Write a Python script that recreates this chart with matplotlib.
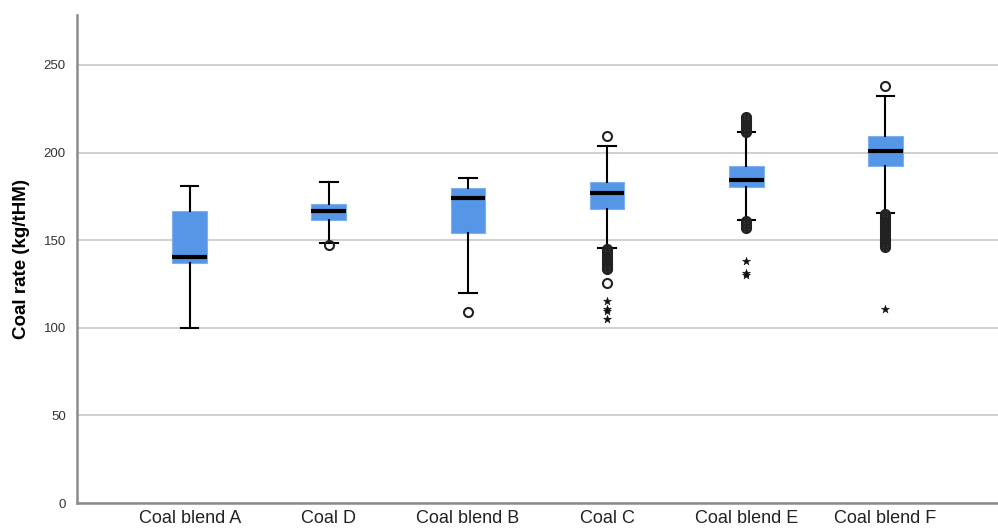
import matplotlib
matplotlib.use("Agg")
import matplotlib.pyplot as plt

plt.rcParams["font.family"] = ["Liberation Sans", "DejaVu Sans"]

# Values (kg/tHM)
categories = ["Coal blend A", "Coal D", "Coal blend B", "Coal C", "Coal blend E", "Coal blend F"]
whisker_low = [100, 148.6, 120, 145.7, 161.5, 165.3]
q1 = [137, 161.5, 153.9, 168, 180.2, 192.4]
median = [140.6, 166.9, 173.9, 177.1, 184.4, 201.1]
q3 = [166.7, 170.7, 179.6, 183, 192.5, 209.7]
whisker_high = [181, 183, 185.2, 204, 211.6, 232.3]

# outliers (circles) and extremes (stars)
outliers = [
    [],
    [147.3],
    [109.2],
    [209.5, 145, 144, 143, 142, 141, 140, 139, 138, 137, 136, 135, 134, 133.5, 125.4],
    [220.5, 219.5, 218.5, 217.5, 216.5, 215.5, 214.5, 213.5, 212.5, 211.8,
     161, 160, 159, 158, 157],
    [238.2, 165, 164, 163, 162, 161, 160, 159, 158, 157, 156, 155, 154, 153,
     152, 151, 150, 149, 148, 147, 146],
]
extremes = [
    [],
    [],
    [],
    [115, 111, 109.5, 105],
    [138, 131, 130],
    [110.5],
]

stats = []
for i, name in enumerate(categories):
    stats.append({
        "label": name,
        "whislo": whisker_low[i],
        "q1": q1[i],
        "med": median[i],
        "q3": q3[i],
        "whishi": whisker_high[i],
        "fliers": outliers[i],
    })

fig = plt.figure(figsize=(9.98, 5.31), dpi=100)
ax = fig.add_axes([0.0772, 0.0527, 0.9228, 0.9191])

positions = list(range(1, len(categories) + 1))
ax.bxp(
    stats,
    positions=positions,
    widths=0.25,
    patch_artist=True,
    boxprops=dict(facecolor="#5596E6", edgecolor="#7fb0ee", linewidth=0.8),
    medianprops=dict(color="black", linewidth=3),
    whiskerprops=dict(color="black", linewidth=1.5),
    capprops=dict(color="black", linewidth=1.5),
    capwidths=0.125,
    flierprops=dict(marker="o", markersize=6.5, markerfacecolor="none",
                    markeredgecolor="#222222", markeredgewidth=1.5, linestyle="none"),
    zorder=3,
)

for pos, vals in zip(positions, extremes):
    if vals:
        ax.scatter([pos] * len(vals), vals, marker="*", s=36, color="#111111",
                   linewidths=0.4, zorder=4)

ax.set_xlim(0.19, 6.81)
ax.set_ylim(0, 278.5)
ax.set_yticks([0, 50, 100, 150, 200, 250])
ax.yaxis.grid(True, color="#c8c8c8", linewidth=1.2)
ax.set_axisbelow(True)

for side in ["top", "right"]:
    ax.spines[side].set_visible(False)
for side in ["left", "bottom"]:
    ax.spines[side].set_color("#8c8c8c")
    ax.spines[side].set_linewidth(1.8)

ax.tick_params(axis="both", length=0)
ax.tick_params(axis="y", labelsize=9.5, labelcolor="#333333", pad=8)
ax.tick_params(axis="x", labelsize=13, labelcolor="#222222", pad=5)
ax.set_ylabel("Coal rate (kg/tHM)", fontsize=13.5, fontweight="bold", labelpad=10)

fig.savefig("out.png", dpi=100)
